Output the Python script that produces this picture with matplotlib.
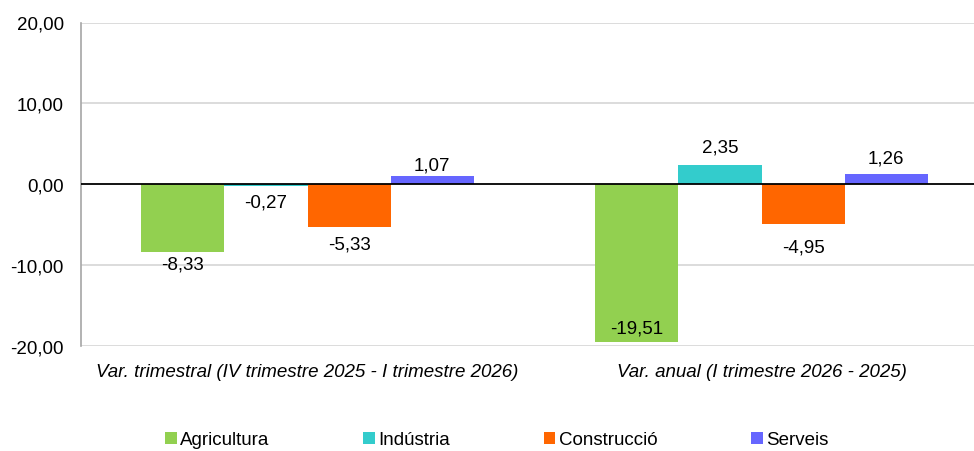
import matplotlib
matplotlib.use("Agg")
import matplotlib.pyplot as plt
import numpy as np

plt.rcParams['font.family'] = ['Liberation Sans', 'DejaVu Sans']

categories = ["Var. trimestral (IV trimestre 2025 - I trimestre 2026)",
              "Var. anual (I trimestre 2026 - 2025)"]
series_names = ["Agricultura", "Indústria", "Construcció", "Serveis"]
agricultura = [-8.33, -19.51]
industria = [-0.27, 2.35]
construccio = [-5.33, -4.95]
serveis = [1.07, 1.26]
series_values = [agricultura, industria, construccio, serveis]
colors = ["#92D050", "#33CCCC", "#FF6600", "#6666FF"]
yticks = [-20, -10, 0, 10, 20]

# label offsets (pixels, from bar end to label centre), per series per category
label_offsets = [[-12, 14], [-16, 18], [-17, -23], [11, 16]]

def fmt(v):
    return f"{v:.2f}".replace(".", ",")

FS = 13.5
fig = plt.figure(figsize=(9.74, 4.52), dpi=100)
ax = fig.add_axes([80.5/974, 1-347/452, 908/974, (347-23.5)/452])

x = np.arange(len(categories))
w = 0.183
offsets = (np.arange(4) - 1.5) * w
for i, (name, vals, c) in enumerate(zip(series_names, series_values, colors)):
    bars = ax.bar(x + offsets[i], vals, w, color=c, label=name, zorder=3)
    for j, (b, v) in enumerate(zip(bars, vals)):
        cx = b.get_x() + b.get_width()/2
        ax.annotate(fmt(v), (cx, v), xytext=(0, label_offsets[i][j]),
                    textcoords='offset pixels', ha='center', va='center',
                    fontsize=FS, zorder=5)

ax.set_xlim(-0.5, 1.5)
ax.set_ylim(-20, 20)
ax.set_yticks(yticks)
ax.set_yticklabels([fmt(t) for t in yticks], fontsize=FS)
ax.set_xticks(x)
ax.set_xticklabels(categories, fontsize=FS, style='italic')
ax.tick_params(axis='y', length=0, pad=12)
ax.tick_params(axis='x', length=0, pad=12)
for t in yticks:
    if t != 0:
        ax.axhline(t, color='#d9d9d9', lw=1.3, zorder=1)
ax.axhline(0, color='black', lw=1.3, zorder=4)
for s in ['top', 'right', 'bottom']:
    ax.spines[s].set_visible(False)
ax.spines['left'].set_color('#a6a6a6')
ax.spines['left'].set_linewidth(1.2)

fig.legend(loc='center', bbox_to_anchor=(497/974, 1-441/452), ncol=4, frameon=False,
           fontsize=FS, handlelength=0.6, handleheight=0.6, handletextpad=0.2,
           columnspacing=5.0)

fig.savefig("out.png", dpi=100)
